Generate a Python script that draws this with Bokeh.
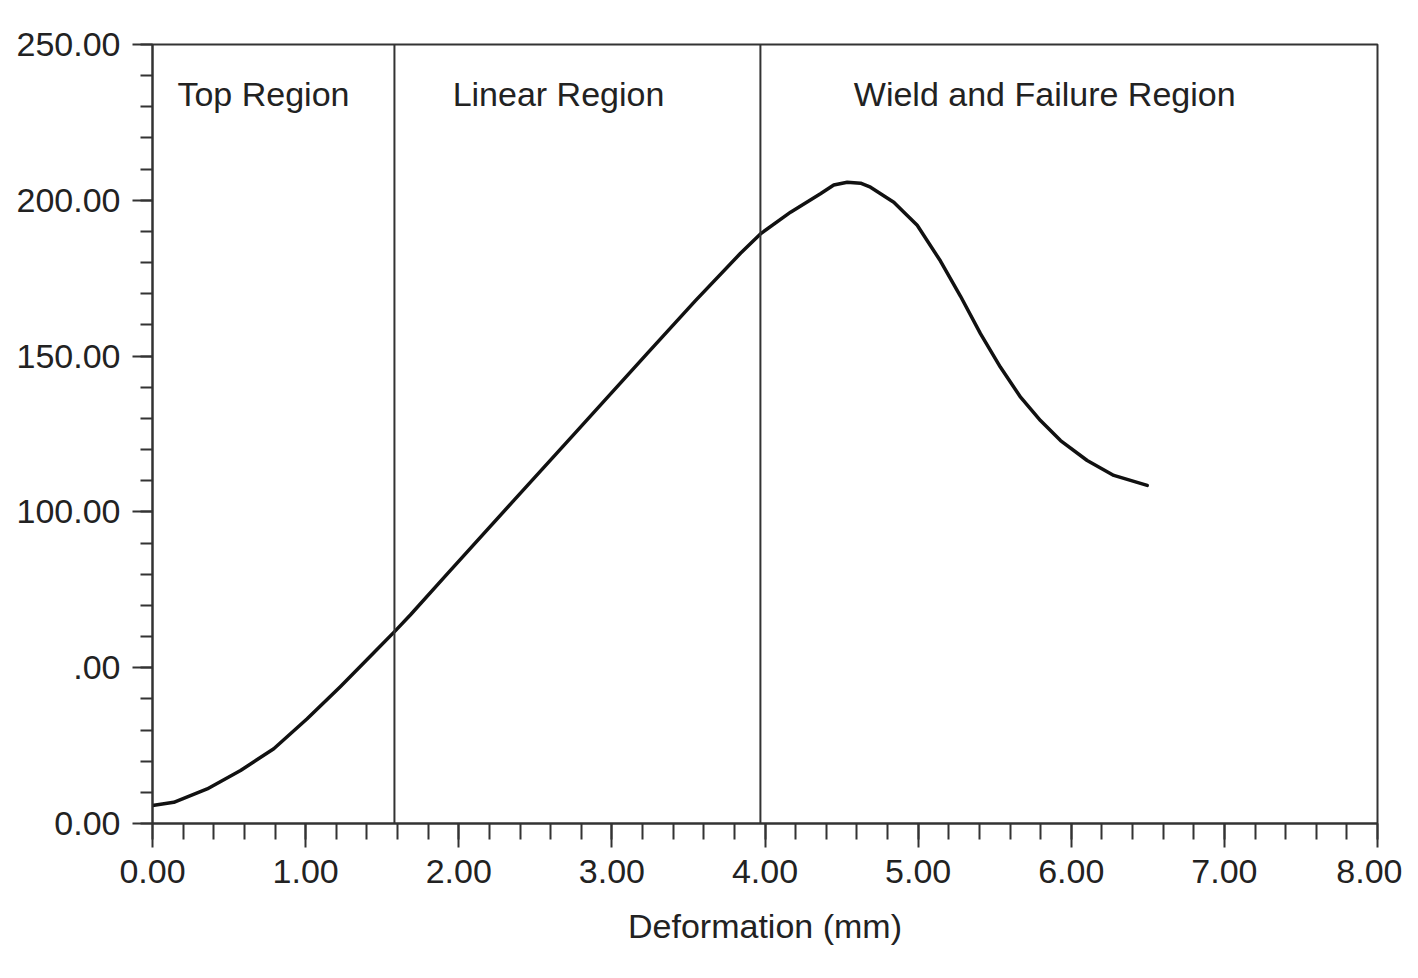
from bokeh.plotting import figure
from bokeh.models import FixedTicker, Label, Span
from bokeh.embed import file_html
from bokeh.resources import INLINE

# Data
deformation = [0.000, 0.139, 0.357, 0.575, 0.792, 1.010, 1.228, 1.445, 1.587, 1.685,
               1.925, 2.36, 2.795, 3.23, 3.546, 3.84, 3.975, 4.167, 4.362, 4.449,
               4.537, 4.624, 4.689, 4.841, 4.994, 5.146, 5.277, 5.407, 5.538, 5.669,
               5.799, 5.930, 6.104, 6.278, 6.496]
load = [5.8, 6.8, 11.1, 17.0, 24.0, 33.6, 44.0, 54.8, 61.9, 67.0,
        80.1, 103.7, 127.2, 150.8, 167.8, 183.0, 189.4, 196.2, 202.1, 204.9,
        205.8, 205.5, 204.2, 199.4, 192.0, 180.5, 169.2, 157.2, 146.4, 136.8,
        129.3, 122.9, 116.5, 111.7, 108.5]

region_bounds = [1.58, 3.97]
region_names = ["Top Region", "Linear Region", "Wield and Failure Region"]
region_label_x = [0.163, 1.96, 4.58]

x_ticks = [0, 1, 2, 3, 4, 5, 6, 7, 8]
x_tick_labels = ["0.00", "1.00", "2.00", "3.00", "4.00", "5.00", "6.00", "7.00", "8.00"]
y_ticks = [0, 50, 100, 150, 200, 250]
y_tick_labels = ["0.00", ".00", "100.00", "150.00", "200.00", "250.00"]

FONT = "Liberation Sans"
FS = "34px"
TXT = "#222222"
AX = "#333333"

p = figure(width=1402, height=962, output_backend="svg", toolbar_location=None,
           x_range=(0, 8), y_range=(0, 250),
           min_border_left=152, min_border_right=25, min_border_top=44,
           min_border_bottom=139)
p.background_fill_color = "white"
p.border_fill_color = "white"
p.outline_line_color = AX
p.outline_line_width = 2
p.xgrid.grid_line_color = None
p.ygrid.grid_line_color = None

p.xaxis.ticker = FixedTicker(ticks=x_ticks,
                             minor_ticks=[i * 0.2 for i in range(41)])
p.xaxis.major_label_overrides = {t: l for t, l in zip(x_ticks, x_tick_labels)}
p.yaxis.ticker = FixedTicker(ticks=y_ticks,
                             minor_ticks=[i * 10 for i in range(26)])
p.yaxis.major_label_overrides = {t: l for t, l in zip(y_ticks, y_tick_labels)}

for ax in (p.xaxis, p.yaxis):
    ax.axis_line_color = AX
    ax.axis_line_width = 2
    ax.major_tick_line_color = AX
    ax.major_tick_line_width = 2
    ax.minor_tick_line_color = AX
    ax.minor_tick_line_width = 2
    ax.major_tick_in = 0
    ax.minor_tick_in = 0
    ax.major_label_text_font = FONT
    ax.major_label_text_font_size = FS
    ax.major_label_text_color = TXT

p.xaxis.major_tick_out = 24
p.xaxis.minor_tick_out = 16
p.xaxis.major_label_standoff = 12
p.yaxis.major_tick_out = 20
p.yaxis.minor_tick_out = 12
p.yaxis.major_label_standoff = 12

p.xaxis.axis_label = "Deformation (mm)"
p.xaxis.axis_label_text_font = FONT
p.xaxis.axis_label_text_font_size = FS
p.xaxis.axis_label_text_font_style = "normal"
p.xaxis.axis_label_text_color = TXT
p.xaxis.axis_label_standoff = 21

for b in region_bounds:
    p.add_layout(Span(location=b, dimension="height", line_color=AX, line_width=2))

for name, lx in zip(region_names, region_label_x):
    p.add_layout(Label(x=lx, y=234, text=name, text_font=FONT,
                       text_font_size=FS, text_color=TXT,
                       text_baseline="middle", text_align="left"))

p.line(deformation, load, line_color="#111111", line_width=3.5,
       line_join="round", line_cap="round")

open("out.html", "w").write(file_html(p, INLINE))
